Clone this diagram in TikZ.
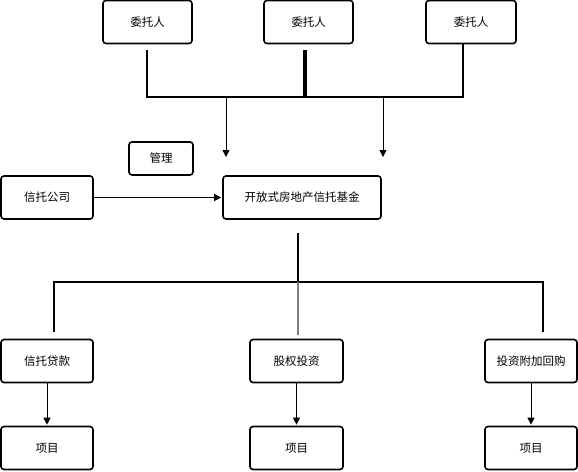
\documentclass[tikz,border=0pt]{standalone}
\usepackage{fontspec}
\setmainfont{Noto Sans CJK SC}
\usetikzlibrary{arrows.meta}

\begin{document}
\begin{tikzpicture}[x=1pt,y=-1pt,
  box/.style={draw,line width=1.6pt,rounded corners=3pt,minimum height=43pt,inner sep=0pt,font=\fontsize{11.5}{13}\selectfont},
  conn/.style={line width=1.8pt},
  arr/.style={line width=0.9pt,-{Triangle[width=7pt,length=7pt]}}]
\useasboundingbox (0,0) rectangle (578,471);


\node[box,minimum width=89pt] (v1) at (147.5,22) {委托人};
\node[box,minimum width=89pt] (v2) at (308.5,22) {委托人};
\node[box,minimum width=90pt] (v3) at (471,22) {委托人};
\coordinate (b1) at (147,97);
\coordinate (b2) at (305,97);
\coordinate (b3) at (463,97);
\draw[conn,shorten <=6pt] (b1 |- v1.south) -- (b1) -- (b3) -- (b3 |- v3.south);
\draw[line width=3.6pt,shorten <=6pt] (b2 |- v2.south) -- (b2);
\coordinate (a1) at (226,157);
\coordinate (a2) at (383,157);
\draw[arr] (a1 |- b1) -- (a1);
\draw[arr] (a2 |- b1) -- (a2);



\node[box,minimum width=64pt,minimum height=33pt] (v4) at (161,158.5) {管理};
\node[box,minimum width=92pt] (v5) at (47,197.5) {信托公司};
\node[box,minimum width=158pt] (v6) at (302,197.5) {开放式房地产信托基金};
\draw[arr,shorten >=1pt] (v5) -- (v6);

\coordinate (c1) at (54,282);
\coordinate (c2) at (298,282);
\coordinate (c3) at (543,282);
\draw[conn,shorten <=13pt] (c2 |- v6.south) -- (c2);
\draw[conn] (c1 |- 0,332) -- (c1) -- (c3) -- (c3 |- 0,332);
\draw[line width=1.3pt,gray] (c2) -- (c2 |- 0,335);

\node[box,minimum width=92pt] (v7) at (47,361) {信托贷款};
\node[box,minimum width=93pt] (v8) at (296.5,361) {股权投资};
\node[box,minimum width=92pt] (v9) at (531,361) {投资附加回购};
\node[box,minimum width=92pt] (v10) at (47,448) {项目};
\node[box,minimum width=93pt] (v11) at (296.5,448) {项目};
\node[box,minimum width=92pt] (v12) at (531,448) {项目};
\draw[arr,shorten >=1pt] (v7) -- (v10);
\draw[arr,shorten >=1pt] (v8) -- (v11);
\draw[arr,shorten >=1pt] (v9) -- (v12);
\end{tikzpicture}
\end{document}
